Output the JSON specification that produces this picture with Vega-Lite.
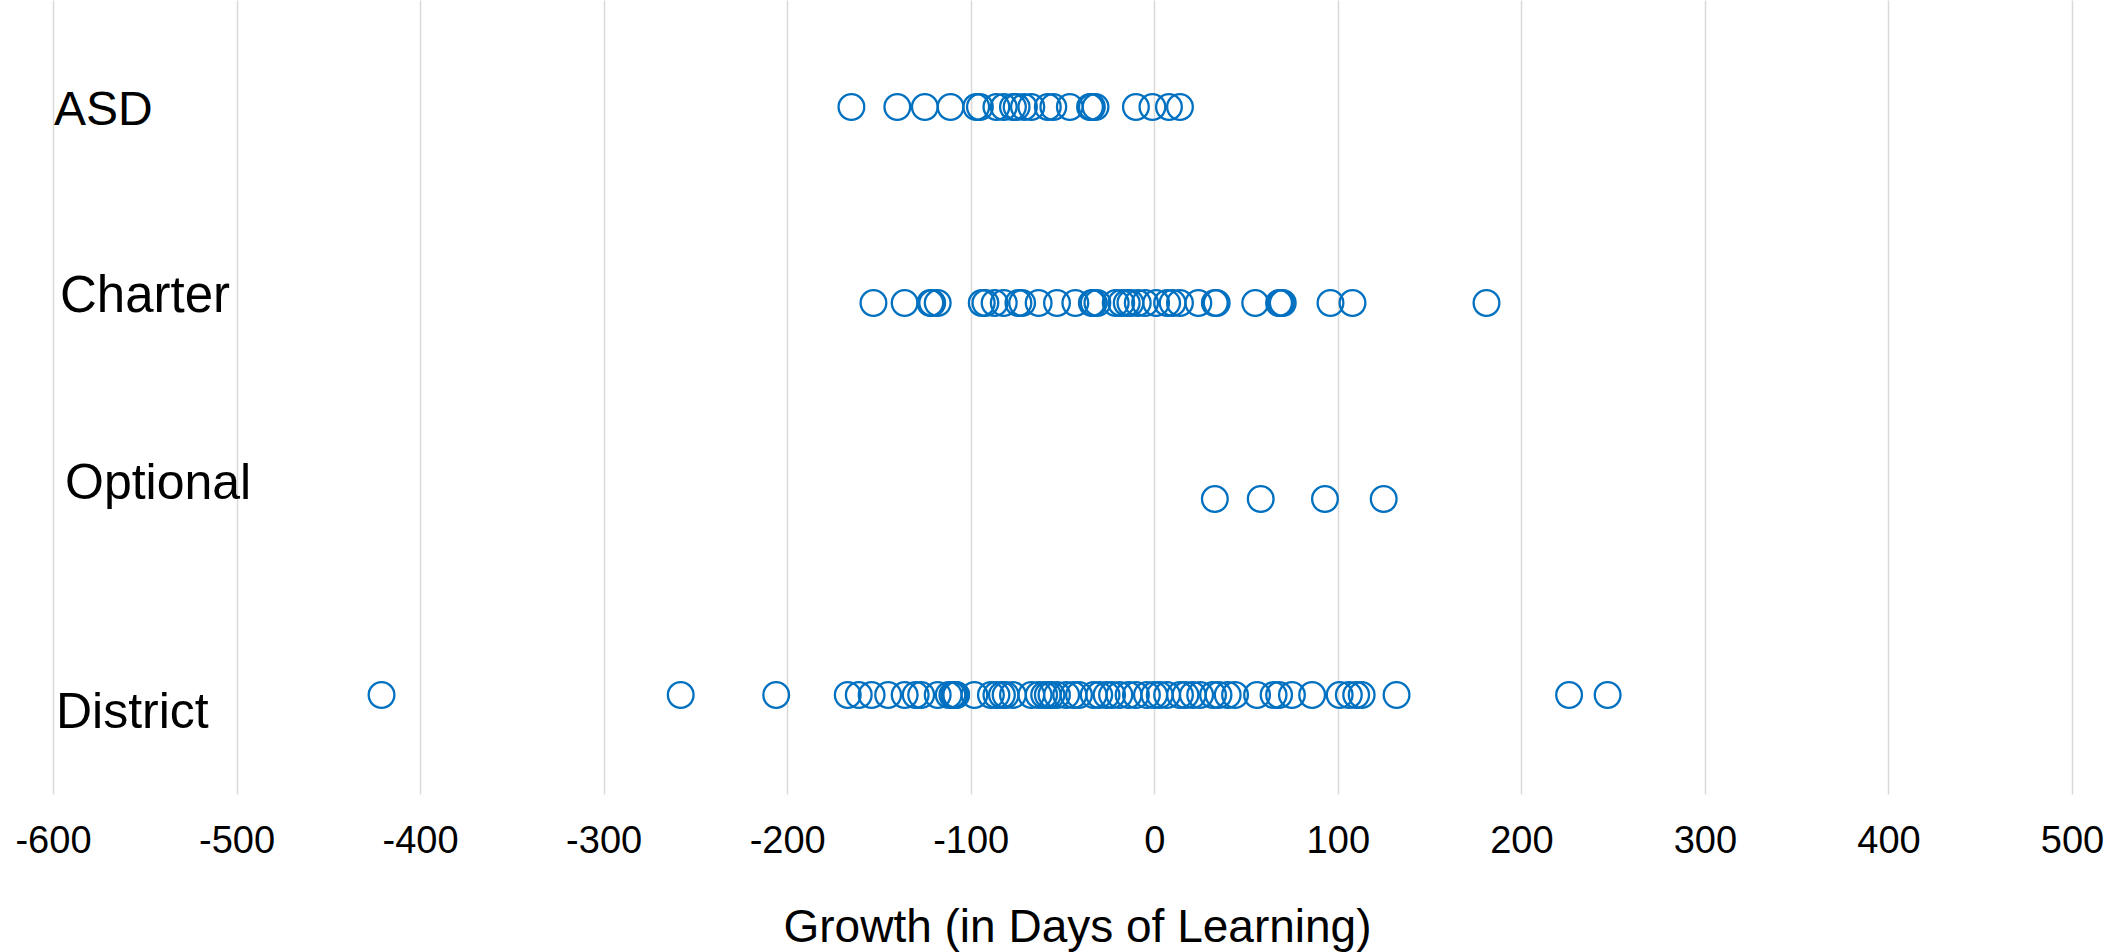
{
  "$schema": "https://vega.github.io/schema/vega-lite/v6.json",
  "width": 2019,
  "height": 794,
  "autosize": {"type": "none"},
  "padding": {"left": 53, "top": 0, "right": 56, "bottom": 158},
  "background": "white",
  "config": {"view": {"stroke": null}, "font": "Liberation Sans"},
  "datasets": {
    "labels": [{"group": "ASD"}, {"group": "Charter"}, {"group": "Optional"}, {"group": "District"}],
    "points": [
      {"group": "ASD", "growth": -165}, {"group": "ASD", "growth": -140}, {"group": "ASD", "growth": -125}, {"group": "ASD", "growth": -111},
      {"group": "ASD", "growth": -97}, {"group": "ASD", "growth": -95}, {"group": "ASD", "growth": -86}, {"group": "ASD", "growth": -82},
      {"group": "ASD", "growth": -77}, {"group": "ASD", "growth": -75}, {"group": "ASD", "growth": -71}, {"group": "ASD", "growth": -67},
      {"group": "ASD", "growth": -58}, {"group": "ASD", "growth": -55}, {"group": "ASD", "growth": -46}, {"group": "ASD", "growth": -35},
      {"group": "ASD", "growth": -34}, {"group": "ASD", "growth": -32}, {"group": "ASD", "growth": -10}, {"group": "ASD", "growth": -1},
      {"group": "ASD", "growth": 8}, {"group": "ASD", "growth": 14},
      {"group": "Charter", "growth": -153}, {"group": "Charter", "growth": -136}, {"group": "Charter", "growth": -122}, {"group": "Charter", "growth": -121},
      {"group": "Charter", "growth": -118}, {"group": "Charter", "growth": -94}, {"group": "Charter", "growth": -92}, {"group": "Charter", "growth": -87},
      {"group": "Charter", "growth": -82}, {"group": "Charter", "growth": -74}, {"group": "Charter", "growth": -72}, {"group": "Charter", "growth": -63},
      {"group": "Charter", "growth": -53}, {"group": "Charter", "growth": -43}, {"group": "Charter", "growth": -34}, {"group": "Charter", "growth": -33},
      {"group": "Charter", "growth": -31}, {"group": "Charter", "growth": -21}, {"group": "Charter", "growth": -18}, {"group": "Charter", "growth": -15},
      {"group": "Charter", "growth": -13}, {"group": "Charter", "growth": -9}, {"group": "Charter", "growth": -5}, {"group": "Charter", "growth": 1},
      {"group": "Charter", "growth": 7}, {"group": "Charter", "growth": 10}, {"group": "Charter", "growth": 14}, {"group": "Charter", "growth": 24},
      {"group": "Charter", "growth": 33}, {"group": "Charter", "growth": 34}, {"group": "Charter", "growth": 55}, {"group": "Charter", "growth": 68},
      {"group": "Charter", "growth": 69}, {"group": "Charter", "growth": 70}, {"group": "Charter", "growth": 96}, {"group": "Charter", "growth": 108},
      {"group": "Charter", "growth": 181},
      {"group": "Optional", "growth": 33}, {"group": "Optional", "growth": 58}, {"group": "Optional", "growth": 93}, {"group": "Optional", "growth": 125},
      {"group": "District", "growth": -421}, {"group": "District", "growth": -258}, {"group": "District", "growth": -206}, {"group": "District", "growth": -167},
      {"group": "District", "growth": -161}, {"group": "District", "growth": -154}, {"group": "District", "growth": -145}, {"group": "District", "growth": -136},
      {"group": "District", "growth": -130}, {"group": "District", "growth": -127}, {"group": "District", "growth": -118}, {"group": "District", "growth": -112},
      {"group": "District", "growth": -110}, {"group": "District", "growth": -109}, {"group": "District", "growth": -108}, {"group": "District", "growth": -108},
      {"group": "District", "growth": -98}, {"group": "District", "growth": -89}, {"group": "District", "growth": -86}, {"group": "District", "growth": -83},
      {"group": "District", "growth": -81}, {"group": "District", "growth": -77}, {"group": "District", "growth": -67}, {"group": "District", "growth": -63},
      {"group": "District", "growth": -60}, {"group": "District", "growth": -58}, {"group": "District", "growth": -56}, {"group": "District", "growth": -53},
      {"group": "District", "growth": -48}, {"group": "District", "growth": -44}, {"group": "District", "growth": -41}, {"group": "District", "growth": -33},
      {"group": "District", "growth": -30}, {"group": "District", "growth": -26}, {"group": "District", "growth": -23}, {"group": "District", "growth": -19},
      {"group": "District", "growth": -14}, {"group": "District", "growth": -10}, {"group": "District", "growth": -4}, {"group": "District", "growth": 0},
      {"group": "District", "growth": 3}, {"group": "District", "growth": 7}, {"group": "District", "growth": 14}, {"group": "District", "growth": 17},
      {"group": "District", "growth": 21}, {"group": "District", "growth": 25}, {"group": "District", "growth": 32}, {"group": "District", "growth": 35},
      {"group": "District", "growth": 40}, {"group": "District", "growth": 44}, {"group": "District", "growth": 56}, {"group": "District", "growth": 65},
      {"group": "District", "growth": 68}, {"group": "District", "growth": 75}, {"group": "District", "growth": 86}, {"group": "District", "growth": 101},
      {"group": "District", "growth": 106}, {"group": "District", "growth": 110}, {"group": "District", "growth": 113}, {"group": "District", "growth": 132},
      {"group": "District", "growth": 226}, {"group": "District", "growth": 247}
    ]
  },
  "encoding": {
    "y": {
      "field": "group",
      "type": "nominal",
      "scale": {"type": "band", "domain": ["ASD", "Charter", "Optional", "District"], "paddingInner": 0, "paddingOuter": 0.0255, "align": 0.9},
      "axis": null
    }
  },
  "layer": [
    {
      "data": {"name": "points"},
      "mark": {"type": "point", "shape": "circle", "filled": false, "size": 660, "strokeWidth": 2.3, "color": "#0070C0", "opacity": 1},
      "encoding": {
        "x": {
          "field": "growth",
          "type": "quantitative",
          "scale": {"domain": [-600, 500], "nice": false, "zero": false},
          "axis": {
            "title": "Growth (in Days of Learning)",
            "values": [-600, -500, -400, -300, -200, -100, 0, 100, 200, 300, 400, 500],
            "labelExpr": "'' + datum.value",
            "grid": true,
            "gridColor": "#D9D9D9",
            "gridWidth": 1.5,
            "domain": false,
            "ticks": false,
            "tickSize": 0,
            "labelFlush": false,
            "labelOverlap": false,
            "labelFont": "Liberation Sans",
            "labelFontSize": 38,
            "labelColor": "#000000",
            "labelBaseline": "middle",
            "labelPadding": 47,
            "titleFont": "Liberation Sans",
            "titleFontSize": 46,
            "titleFontWeight": "normal",
            "titleColor": "#000000",
            "titleX": 1024,
            "titleY": 133,
            "titleAlign": "center",
            "titleBaseline": "middle"
          }
        }
      }
    },
    {
      "data": {"name": "labels"},
      "transform": [{"filter": "datum.group === 'ASD'"}],
      "mark": {"type": "text", "align": "left", "baseline": "alphabetic", "fontSize": 48, "font": "Liberation Sans", "color": "#000000", "dx": 1, "dy": 18},
      "encoding": {"x": {"datum": -600, "type": "quantitative"}, "text": {"field": "group"}}
    },
    {
      "data": {"name": "labels"},
      "transform": [{"filter": "datum.group === 'Charter'"}],
      "mark": {"type": "text", "align": "left", "baseline": "alphabetic", "fontSize": 51, "font": "Liberation Sans", "color": "#000000", "dx": 7, "dy": 9},
      "encoding": {"x": {"datum": -600, "type": "quantitative"}, "text": {"field": "group"}}
    },
    {
      "data": {"name": "labels"},
      "transform": [{"filter": "datum.group === 'Optional'"}],
      "mark": {"type": "text", "align": "left", "baseline": "alphabetic", "fontSize": 50, "font": "Liberation Sans", "color": "#000000", "dx": 12, "dy": 0},
      "encoding": {"x": {"datum": -600, "type": "quantitative"}, "text": {"field": "group"}}
    },
    {
      "data": {"name": "labels"},
      "transform": [{"filter": "datum.group === 'District'"}],
      "mark": {"type": "text", "align": "left", "baseline": "alphabetic", "fontSize": 50, "font": "Liberation Sans", "color": "#000000", "dx": 3, "dy": 33},
      "encoding": {"x": {"datum": -600, "type": "quantitative"}, "text": {"field": "group"}}
    }
  ]
}
